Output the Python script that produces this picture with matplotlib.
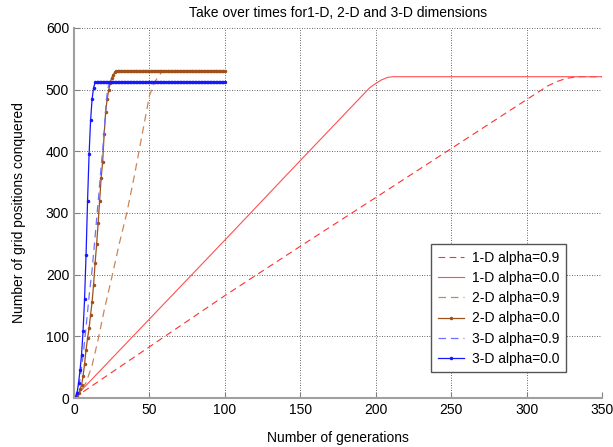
import numpy as np
import matplotlib
matplotlib.use("Agg")
import matplotlib.pyplot as plt

plt.rcParams['font.family'] = ['Liberation Sans', 'DejaVu Sans']
plt.rcParams['font.size'] = 10

# 1-D: sparse breakpoints (lines are straight ramps then a plateau)
gen_1d_a0 = [0, 100, 150, 196, 200, 204, 208, 212, 350]
pos_1d_a0 = [0, 256, 385, 503, 510, 516, 520, 521, 521]
gen_1d_a9 = [0, 100, 150, 200, 314, 320, 326, 331, 336, 350]
pos_1d_a9 = [0, 166, 246, 325, 506, 513, 518, 520, 521, 521]

# 2-D
gen_2d_a9 = [0, 4, 8, 12, 16, 20, 25, 30, 35, 40, 45, 50, 53, 56, 58, 60, 100]
pos_2d_a9 = [0, 10, 25, 53, 95, 142, 195, 250, 300, 360, 425, 490, 510, 522, 528, 530, 530]
pos_2d_a0 = [0, 1, 4, 8, 14, 21, 35, 55, 78, 97, 113, 135, 156, 184, 219, 249,
             283, 320, 357, 383, 428, 464, 485, 499, 511, 519, 524, 528, 530] + [530] * 72

# 3-D
gen_3d_a9 = [0, 2, 4, 6, 8, 10, 12, 14, 16, 18, 20, 21, 22, 23, 24, 100]
pos_3d_a9 = [0, 8, 30, 68, 115, 165, 208, 262, 318, 375, 430, 468, 495, 508, 513, 513]
pos_3d_a0 = [0, 1, 8, 24, 45, 70, 108, 160, 232, 320, 395, 450, 485, 503, 512, 513] + [513] * 85

gens = np.arange(0, 101)

fig = plt.figure(figsize=(6.13, 4.47), dpi=100)
ax = fig.add_axes([0.1207, 0.1096, 0.8613, 0.8278])

ax.plot(gen_1d_a9, pos_1d_a9, color='#ff3030', lw=0.8, dashes=(6, 4), label='1-D alpha=0.9')
ax.plot(gen_1d_a0, pos_1d_a0, color='#ff5050', lw=0.8, label='1-D alpha=0.0')
ax.plot(gen_2d_a9, pos_2d_a9, color='#c8865a', lw=0.9, dashes=(6, 4), label='2-D alpha=0.9')
ax.plot(gens, pos_2d_a0, color='#a0501a', lw=0.9, marker='.', ms=3, label='2-D alpha=0.0')
ax.plot(gen_3d_a9, pos_3d_a9, color='#7070ff', lw=0.9, dashes=(6, 4), label='3-D alpha=0.9')
ax.plot(gens, pos_3d_a0, color='#1818ff', lw=0.9, marker='.', ms=3, label='3-D alpha=0.0')

ax.set_xlim(0, 350)
ax.set_ylim(0, 600)
ax.set_xticks(np.arange(0, 351, 50))
ax.set_yticks(np.arange(0, 601, 100))
ax.grid(True, color='#333333', linestyle=(0, (1, 2)), linewidth=0.6)
ax.tick_params(direction='in', length=4, color='#808080', labelsize=10)
for s in ['top', 'right']:
    ax.spines[s].set_visible(False)
for s in ['left', 'bottom']:
    ax.spines[s].set_color('#a0a0a0')
    ax.spines[s].set_linewidth(1.5)

ax.set_title('Take over times for1-D, 2-D and 3-D dimensions', fontsize=10, pad=8)
ax.set_xlabel('Number of generations', labelpad=10)
ax.set_ylabel('Number of grid positions conquered', labelpad=14)

leg = ax.legend(loc='upper left', bbox_to_anchor=(0.677, 0.415), borderaxespad=0,
                fancybox=False, framealpha=1, edgecolor='#555555', handlelength=1.9,
                labelspacing=0.45, borderpad=0.45, handletextpad=0.6, fontsize=10)
leg.get_frame().set_linewidth(1.0)

fig.savefig('out.png', dpi=100)
